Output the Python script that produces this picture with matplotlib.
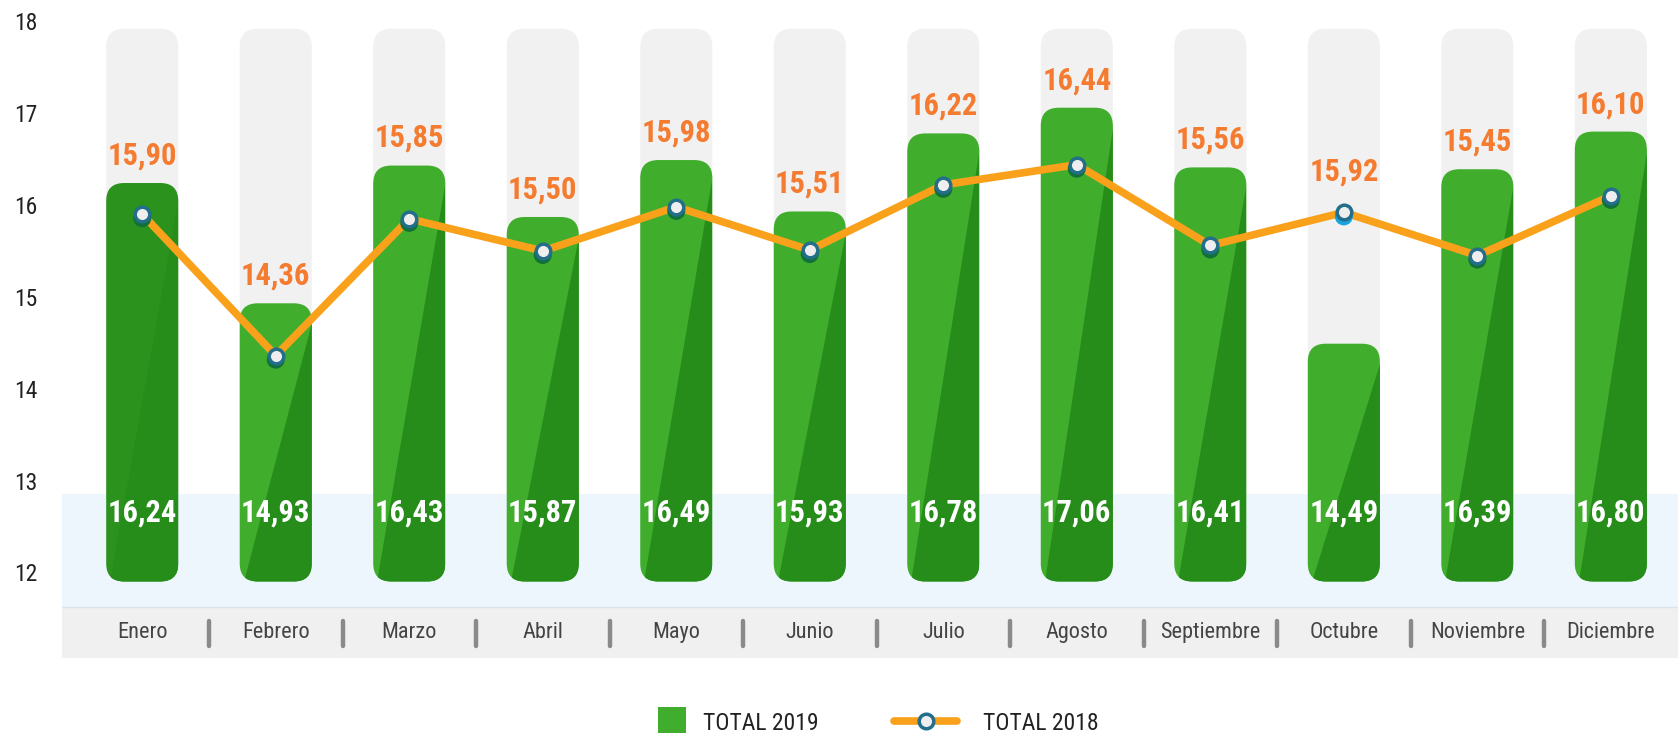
import matplotlib
matplotlib.use('Agg')
import matplotlib.pyplot as plt
from matplotlib.patches import FancyBboxPatch, Polygon, Patch, Rectangle
from matplotlib.lines import Line2D
from matplotlib.legend_handler import HandlerPatch
from matplotlib import transforms

meses = ['Enero', 'Febrero', 'Marzo', 'Abril', 'Mayo', 'Junio', 'Julio',
         'Agosto', 'Septiembre', 'Octubre', 'Noviembre', 'Diciembre']
total_2019 = [16.24, 14.93, 16.43, 15.87, 16.49, 15.93, 16.78, 17.06, 16.41, 14.49, 16.39, 16.80]
total_2018 = [15.90, 14.36, 15.85, 15.50, 15.98, 15.51, 16.22, 16.44, 15.56, 15.92, 15.45, 16.10]
y_ticks = [12, 13, 14, 15, 16, 17, 18]

base = 11.9      # pie de las barras
tope = 17.92     # tope de las barras grises de fondo

verde = '#40AE2C'
verde_osc = '#268C1A'
naranja = '#F9A11B'
naranja_txt = '#F47B2F'

plt.rcParams['font.family'] = ['Roboto Condensed', 'DejaVu Sans']

W, H = 1678, 733
fig = plt.figure(figsize=(W / 100, H / 100), dpi=100)
ax = fig.add_axes([62 / W, 75 / H, 1 - 62 / W, 658 / H])
ax.set_xlim(-0.601, 11.503)
ax.set_ylim(11.067, 18.233)
for s in ax.spines.values():
    s.set_visible(False)

# aspecto para que las esquinas redondeadas salgan circulares
px_x = (W - 62) / (11.503 + 0.601)
px_y = 658 / (18.233 - 11.067)
aspect = px_x / px_y
radio = 18 / px_x

x = list(range(len(meses)))
ancho = 0.54

def redondear(rects, color, z):
    out = []
    for r in rects:
        p = FancyBboxPatch((r.get_x(), r.get_y()), r.get_width(), r.get_height(),
                           boxstyle='round,pad=0,rounding_size=%f' % radio,
                           mutation_aspect=aspect, fc=color, ec='none', zorder=z)
        r.remove()
        ax.add_patch(p)
        out.append(p)
    return out

# barras grises de fondo
fondo = ax.bar(x, [tope - base] * len(x), bottom=base, width=ancho)
redondear(fondo, '#F1F1F1', 1)

# franjas
ax.axhspan(11.627, 12.85, color='#EEF6FD', zorder=2, lw=0)
ax.axhspan(11.067, 11.627, color='#F0F0F0', zorder=2, lw=0)
ax.axhline(11.627, color='#DCE3EA', lw=1, zorder=2)

# barras 2019
barras = ax.bar(x, [v - base for v in total_2019], bottom=base, width=ancho)
claros = [verde] * len(x)
claros[0] = '#2A921D'
patches = []
for r, c in zip(barras, claros):
    patches += redondear([r], c, 3)
for p, v, i in zip(patches, total_2019, x):
    xl, xr = i - ancho / 2, i + ancho / 2
    tri = Polygon([(xr, v - 0.22), (xr, base), (xl + 0.03, base)],
                  closed=True, fc=verde_osc, ec='none', zorder=3.1)
    ax.add_patch(tri)
    tri.set_clip_path(p)
    ax.text(i, 12.65, ('%.2f' % v).replace('.', ','), ha='center', va='center',
            fontsize=22, fontweight='bold', color='white', zorder=4)

# linea 2018
ax.plot(x, total_2018, color=naranja, lw=5.5, zorder=5, solid_capstyle='round')
sombra = transforms.offset_copy(ax.transData, fig=fig, x=0, y=-4, units='dots')
col_sombra = ['#12703A' if b > l else '#18A5DC' for b, l in zip(total_2019, total_2018)]
ax.scatter(x, total_2018, s=13 ** 2, c=col_sombra, transform=sombra, zorder=6, lw=0)
ax.plot(x, total_2018, 'o', ms=10.5, mfc='#EEEEEE', mec='#236E8A', mew=2.5, zorder=7)

for i, b, l in zip(x, total_2019, total_2018):
    y = max(b, l + 0.15) + 0.30
    ax.text(i, y, ('%.2f' % l).replace('.', ','), ha='center', va='center',
            fontsize=22, fontweight='bold', color=naranja_txt, zorder=8)

# eje x: meses y separadores
for i, m in zip(x, meses):
    ax.text(i, 11.347, m, ha='center', va='center', fontsize=16, color='#444444', zorder=4)
ax.vlines([i + 0.5 for i in x[:-1]], 11.2, 11.47, colors='#8A8A8A', lw=3.2,
          capstyle='round', zorder=4)
ax.set_xticks([])

ax.set_yticks(y_ticks)
ax.set_yticklabels([str(t) for t in y_ticks])
ax.tick_params(axis='y', length=0, pad=18, labelsize=17, labelcolor='#222222')

# leyenda: cuadrado pegado al texto
def cuadrado(legend, orig_handle, xdescent, ydescent, width, height, fontsize):
    lado = 20.2
    return Rectangle((-xdescent + width - 13.2, -ydescent + height / 2 - lado / 2), lado, lado)

handles = [Patch(fc=verde, ec='none'),
           Line2D([], [], color=naranja, lw=5.5, solid_capstyle='round', marker='o',
                  ms=10.5, mfc='#EEEEEE', mec='#236E8A', mew=2.5)]
fig.legend(handles, ['TOTAL 2019', 'TOTAL 2018'], loc='center', bbox_to_anchor=(0.5104, 0.0135),
           ncol=2, frameon=False, fontsize=17, labelcolor='#222222', handlelength=2.64,
           handletextpad=1.13, columnspacing=3.22, borderaxespad=0, borderpad=0,
           handler_map={Patch: HandlerPatch(patch_func=cuadrado)})

fig.savefig('out.png', dpi=100)
